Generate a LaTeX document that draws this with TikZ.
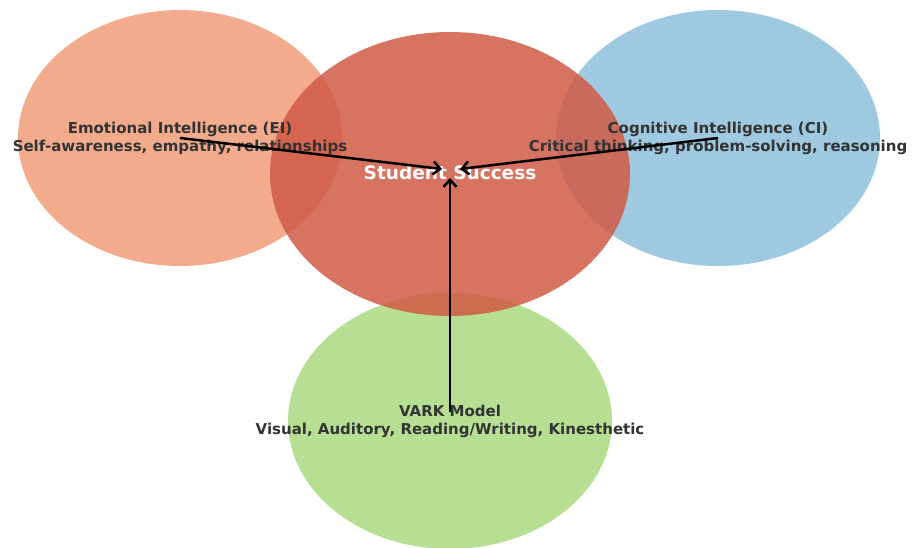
\documentclass[tikz,border=0pt]{standalone}
\usepackage{fontspec}
\setmainfont{DejaVu Sans}
\usetikzlibrary{shapes.geometric,arrows.meta}
\definecolor{eiorange}{HTML}{F1A381}
\definecolor{ciblue}{HTML}{93C3DE}
\definecolor{varkgreen}{HTML}{AEDC88}
\definecolor{ssred}{HTML}{D05A45}
\definecolor{txtgray}{HTML}{333333}
\tikzset{
  bubble/.style={ellipse, draw=none, inner sep=0pt},
  caption/.style={font=\bfseries\fontsize{15}{18}\selectfont, text=txtgray, align=center, inner sep=0pt},
  flow/.style={line width=2.5pt, draw=black, -{Straight Barb[length=7pt,width=13pt,line width=2.5pt]}}
}
\begin{document}
\begin{tikzpicture}[x=1pt,y=-1pt]
\useasboundingbox (0,0) rectangle (914,547);
% circles of influence
\node[bubble, fill=eiorange, fill opacity=0.9, minimum width=324pt, minimum height=256pt] (ei) at (180,138) {};
\node[bubble, fill=ciblue, fill opacity=0.9, minimum width=324pt, minimum height=256pt] (ci) at (718,138) {};
\node[bubble, fill=varkgreen, fill opacity=0.9, minimum width=324pt, minimum height=256pt] (vark) at (450,421) {};
\node[bubble, fill=ssred, fill opacity=0.85, minimum width=360pt, minimum height=284pt] (ss) at (450,174) {};
% captions
\node[caption] (eitxt) at (180,138) {Emotional Intelligence (EI)\\Self-awareness, empathy, relationships};
\node[caption] (citxt) at (718,138) {Cognitive Intelligence (CI)\\Critical thinking, problem-solving, reasoning};
\node[caption] (varktxt) at (450,421) {VARK Model\\Visual, Auditory, Reading/Writing, Kinesthetic};
\node[font=\bfseries\fontsize{18.5}{20}\selectfont, text=white, inner sep=0pt] (sstxt) at (450,173) {Student Success};
% arrow tips
\coordinate (tipL) at (442,169);
\coordinate (tipR) at (460,169);
\coordinate (tipB) at (450,178);
\draw[flow] (eitxt.center) -- (tipL);
\draw[flow] (citxt.center) -- (tipR);
\draw[flow] (450,412) -- (tipB);
\end{tikzpicture}
\end{document}
